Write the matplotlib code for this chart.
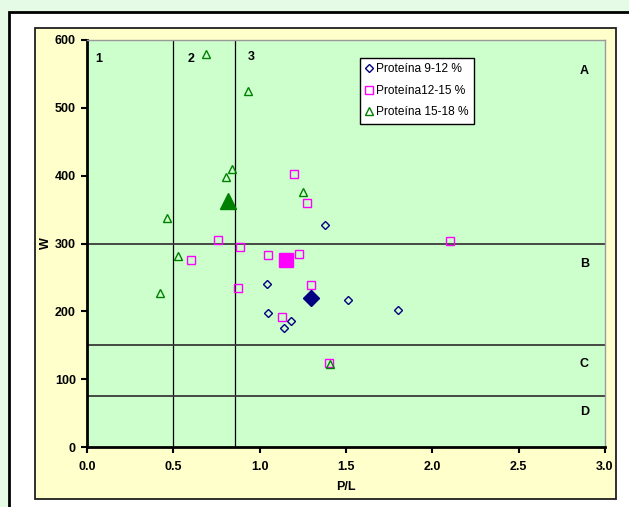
import matplotlib
matplotlib.use("Agg")
from matplotlib import pyplot as plt
from matplotlib.patches import Rectangle

plt.rcParams['font.family'] = ['Liberation Sans', 'DejaVu Sans']

# Proteina 9-12 %
pl_9_12 = [1.38, 1.04, 1.51, 1.80, 1.05, 1.18, 1.14]
w_9_12 = [327, 241, 217, 202, 198, 186, 175]
mean_9_12 = (1.30, 220)

# Proteina 12-15 %
pl_12_15 = [1.20, 1.275, 0.76, 2.10, 0.885, 1.05, 1.225, 0.60, 1.30, 0.875, 1.13, 1.40]
w_12_15 = [403, 359, 305, 303, 295, 283, 285, 276, 239, 235, 192, 124]
mean_12_15 = (1.15, 275)

# Proteina 15-18 %
pl_15_18 = [0.69, 0.935, 0.84, 0.805, 1.25, 0.465, 0.525, 0.42, 1.405]
w_15_18 = [580, 525, 410, 398, 376, 338, 282, 227, 122]
mean_15_18 = (0.815, 362)

series_names = ['Proteína 9-12 %', 'Proteína12-15 %', 'Proteína 15-18 %']

pl_limits = [0.5, 0.86]
w_limits = [300, 150, 75]
zone_nums = [('1', 0.07, 572), ('2', 0.6, 572), ('3', 0.95, 575)]
zone_letters = [('A', 2.88, 555), ('B', 2.88, 270), ('C', 2.88, 123), ('D', 2.88, 52)]

W, H = 629, 507
fig = plt.figure(figsize=(W / 100, H / 100), dpi=100, facecolor='#e6fbe6')

# outer white frame (continues past right/bottom edge)
fig.patches.append(Rectangle((9 / W, -0.05), 1.1, 1 - 12 / H + 0.05, transform=fig.transFigure,
                             facecolor='white', edgecolor='black', linewidth=2, zorder=-3))
# chart area
fig.patches.append(Rectangle((35 / W, 1 - 499 / H), (616 - 35) / W, (499 - 28) / H,
                             transform=fig.transFigure, facecolor='#ffffcc',
                             edgecolor='#202020', linewidth=1.3, zorder=-2))

ax = fig.add_axes([87 / W, (H - 447) / H, 518 / W, 407 / H])
ax.set_zorder(2)
ax.set_facecolor('#ccffcc')

for x in pl_limits:
    ax.axvline(x, color='black', linewidth=0.9, zorder=1)
for y in w_limits:
    ax.axhline(y, color='#3a3a3a', linewidth=1.3, zorder=1)

ax.plot(pl_9_12, w_9_12, linestyle='none', marker='D', markersize=4.5, markerfacecolor='none',
        markeredgecolor='#000080', markeredgewidth=1, label=series_names[0], zorder=3)
ax.plot(pl_12_15, w_12_15, linestyle='none', marker='s', markersize=6, markerfacecolor='none',
        markeredgecolor='#ff00ff', markeredgewidth=1, label=series_names[1], zorder=3)
ax.plot(pl_15_18, w_15_18, linestyle='none', marker='^', markersize=5.5, markerfacecolor='none',
        markeredgecolor='#008000', markeredgewidth=1, label=series_names[2], zorder=3)

ax.plot(*mean_9_12, marker='D', markersize=8, color='#000080', linestyle='none', zorder=4)
ax.plot(*mean_12_15, marker='s', markersize=10, color='#ff00ff', linestyle='none', zorder=4)
ax.plot(*mean_15_18, marker='^', markersize=11, color='#008000', linestyle='none', zorder=4)

for t, x, y in zone_nums + zone_letters:
    ax.text(x, y, t, fontsize=9, fontweight='bold', ha='center', va='center')

ax.set_xlim(0, 3)
ax.set_ylim(0, 600)
ax.set_xticks([0, 0.5, 1.0, 1.5, 2.0, 2.5, 3.0])
ax.set_xticklabels(['0.0', '0.5', '1.0', '1.5', '2.0', '2.5', '3.0'])
ax.set_yticks(range(0, 601, 100))
ax.tick_params(direction='out', length=4, width=1.5, labelsize=9)
ax.tick_params(axis='x', pad=6)
ax.tick_params(axis='y', pad=4)
for lab in ax.get_xticklabels() + ax.get_yticklabels():
    lab.set_fontweight('bold')

for s in ['left', 'bottom']:
    ax.spines[s].set_linewidth(2)
    ax.spines[s].set_color('black')
for s in ['top', 'right']:
    ax.spines[s].set_linewidth(1)
    ax.spines[s].set_color('#9a9a9a')

ax.set_xlabel('P/L', fontsize=9, fontweight='bold', labelpad=6)
ax.set_ylabel('W', fontsize=9, fontweight='bold', labelpad=2)

leg = ax.legend(loc='upper left', bbox_to_anchor=(0.527, 0.956), fontsize=8.6, frameon=True,
                fancybox=False, edgecolor='black', facecolor='white', framealpha=1,
                handlelength=0.6, handletextpad=0.3, borderpad=0.45, labelspacing=0.8,
                borderaxespad=0)
leg.get_frame().set_linewidth(1)

fig.savefig('out.png', dpi=100, facecolor=fig.get_facecolor())
